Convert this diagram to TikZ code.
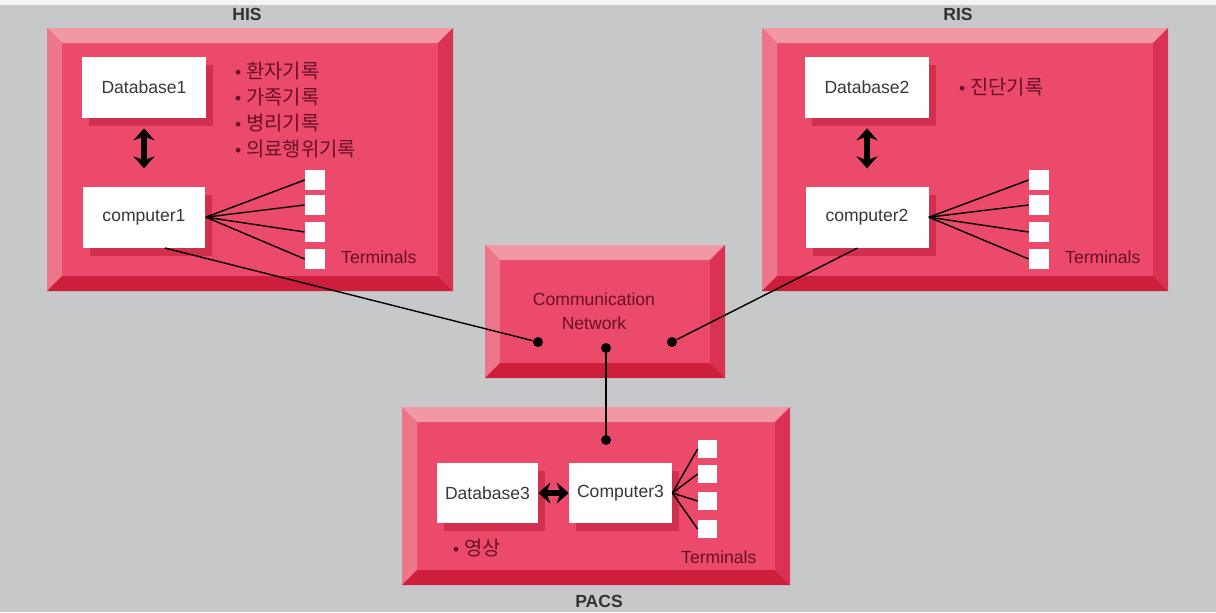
\documentclass[tikz,border=0pt]{standalone}
\usepackage{fontspec}
\setmainfont{Liberation Sans}
\newfontfamily\kofont{Noto Sans CJK KR}
\usetikzlibrary{arrows.meta, positioning, shadows}

\definecolor{bggray}{RGB}{199,200,202}
\definecolor{facepink}{RGB}{236,74,106}
\definecolor{toppink}{RGB}{241,152,164}
\definecolor{leftpink}{RGB}{238,118,138}
\definecolor{botpink}{RGB}{205,30,60}
\definecolor{rightpink}{RGB}{218,50,82}
\definecolor{shadowpink}{RGB}{208,48,78}
\definecolor{inktext}{RGB}{105,15,40}
\definecolor{boxtext}{RGB}{55,55,60}

\tikzset{
	box/.style = {fill=white, text=boxtext, inner sep=0pt, font=\fontsize{10}{12}\selectfont,
		drop shadow={shadow xshift=0.14cm, shadow yshift=-0.16cm, fill=shadowpink, opacity=1}},
	term/.style = {fill=white, minimum width=0.4cm, minimum height=0.4cm, inner sep=0pt},
	link/.style = {draw=black, line width=0.8pt},
	dot/.style = {circle, fill=black, inner sep=0pt, minimum size=0.2cm},
	dbarrow/.style = {{Stealth[length=0.24cm,width=0.42cm]}-{Stealth[length=0.24cm,width=0.42cm]}, line width=3.2pt},
	title/.style = {font=\bfseries\fontsize{10}{12}\selectfont, text=black!80},
	pinktext/.style = {text=inktext, font=\fontsize{10}{14.7}\selectfont},
}

% bevelled panel: x1, y1, x2, y2, bevel width
\newcommand{\bevelpanel}[5]{%
	\fill[facepink] (#1,#2) rectangle (#3,#4);
	\fill[toppink] (#1,#2) -- (#3,#2) -- ({#3-#5},{#2+#5}) -- ({#1+#5},{#2+#5}) -- cycle;
	\fill[leftpink] (#1,#2) -- ({#1+#5},{#2+#5}) -- ({#1+#5},{#4-#5}) -- (#1,#4) -- cycle;
	\fill[botpink] (#1,#4) -- ({#1+#5},{#4-#5}) -- ({#3-#5},{#4-#5}) -- (#3,#4) -- cycle;
	\fill[rightpink] (#3,#2) -- (#3,#4) -- ({#3-#5},{#4-#5}) -- ({#3-#5},{#2+#5}) -- cycle;
}

\begin{document}
\begin{tikzpicture}[x = 0.02cm, y = -0.02cm]
	\useasboundingbox (0,0) rectangle (1216,612);
	\fill[bggray] (0,0) rectangle (1216,612);
	\fill[white!80!bggray] (0,0) rectangle (1216,5);

	\begin{scope}
		\bevelpanel{47}{28}{453}{291}{15}
		\bevelpanel{762}{28}{1168}{291}{15}
		\bevelpanel{485}{245}{725}{378}{15}
		\bevelpanel{402}{407}{790}{585}{15}
	\end{scope}

	\node[title] (his) at (247,14) {HIS};
	\node[title] (ris) at (958,14) {RIS};
	\node[title] (pacs) at (599,601) {PACS};

	% HIS
	\node[box, minimum width=2.48cm, minimum height=1.22cm] (db1) at (144,87.5) {Database1};
	\node[box, minimum width=2.46cm, minimum height=1.22cm, below=1.36cm of db1] (comp1) {computer1};
	\draw[dbarrow] ([yshift=-0.2cm]db1.south) -- ([yshift=0.36cm]comp1.north);
	\node[pinktext, anchor=north west, align=left] (hislist) at (229,56)
		{\textbullet\ {\kofont\fontsize{11.3}{14.7}\selectfont 환자기록}\\ \textbullet\ {\kofont\fontsize{11.3}{14.7}\selectfont 가족기록}\\
		\textbullet\ {\kofont\fontsize{11.3}{14.7}\selectfont 병리기록}\\ \textbullet\ {\kofont\fontsize{11.3}{14.7}\selectfont 의료행위기록}};
	\foreach \i/\y in {1/180,2/205,3/232,4/259}
	{
		\node[term] (ta\i) at (315,\y) {};
		\draw[link] (comp1.east) -- (ta\i.west);
	}
	\node[pinktext, anchor=west] (histerm) at (335,257) {Terminals};

	% RIS
	\node[box, minimum width=2.48cm, minimum height=1.22cm] (db2) at (867,87.5) {Database2};
	\node[box, minimum width=2.46cm, minimum height=1.22cm, below=1.36cm of db2] (comp2) {computer2};
	\draw[dbarrow] ([yshift=-0.2cm]db2.south) -- ([yshift=0.36cm]comp2.north);
	\node[pinktext, anchor=west] (rislist) at (953,87) {\textbullet\ {\kofont\fontsize{11.3}{14.7}\selectfont 진단기록}};
	\foreach \i/\y in {1/180,2/205,3/232,4/259}
	{
		\node[term] (tb\i) at (1039,\y) {};
		\draw[link] (comp2.east) -- (tb\i.west);
	}
	\node[pinktext, anchor=west] (risterm) at (1059,257) {Terminals};

	% network
	\node[pinktext, align=center, font=\fontsize{10}{13.6}\selectfont] (net) at (594,311) {Communication\\Network};
	\node[dot] (dotl) at (538,342) {};
	\node[dot] (dotc) at (606,348) {};
	\node[dot] (dotr) at (672,342) {};
	\node[dot] (dotp) at (606,440) {};

	% PACS
	\node[box, minimum width=2.02cm, minimum height=1.2cm] (db3) at (487.5,493) {Database3};
	\node[box, minimum width=2.06cm, minimum height=1.2cm] (comp3) at (620.5,493) {Computer3};
	\draw[dbarrow] (db3.east) -- (comp3.west);
	\node[pinktext, anchor=west] (pacslist) at (447,548) {\textbullet\ {\kofont\fontsize{11.3}{14.7}\selectfont 영상}};
	\foreach \i/\y in {1/449,2/474,3/501,4/529}
	{
		\node[term, minimum width=0.38cm, minimum height=0.36cm] (tc\i) at (707.5,\y) {};
		\draw[link] (comp3.east) -- (tc\i.west);
	}
	\node[pinktext, anchor=west] (pacsterm) at (675,557) {Terminals};

	\draw[link] ([xshift=0.42cm]comp1.south) -- (dotl);
	\draw[link] ([xshift=-0.19cm]comp2.south) -- (dotr);
	\draw[link] (dotc) -- (dotp);
\end{tikzpicture}
\end{document}
